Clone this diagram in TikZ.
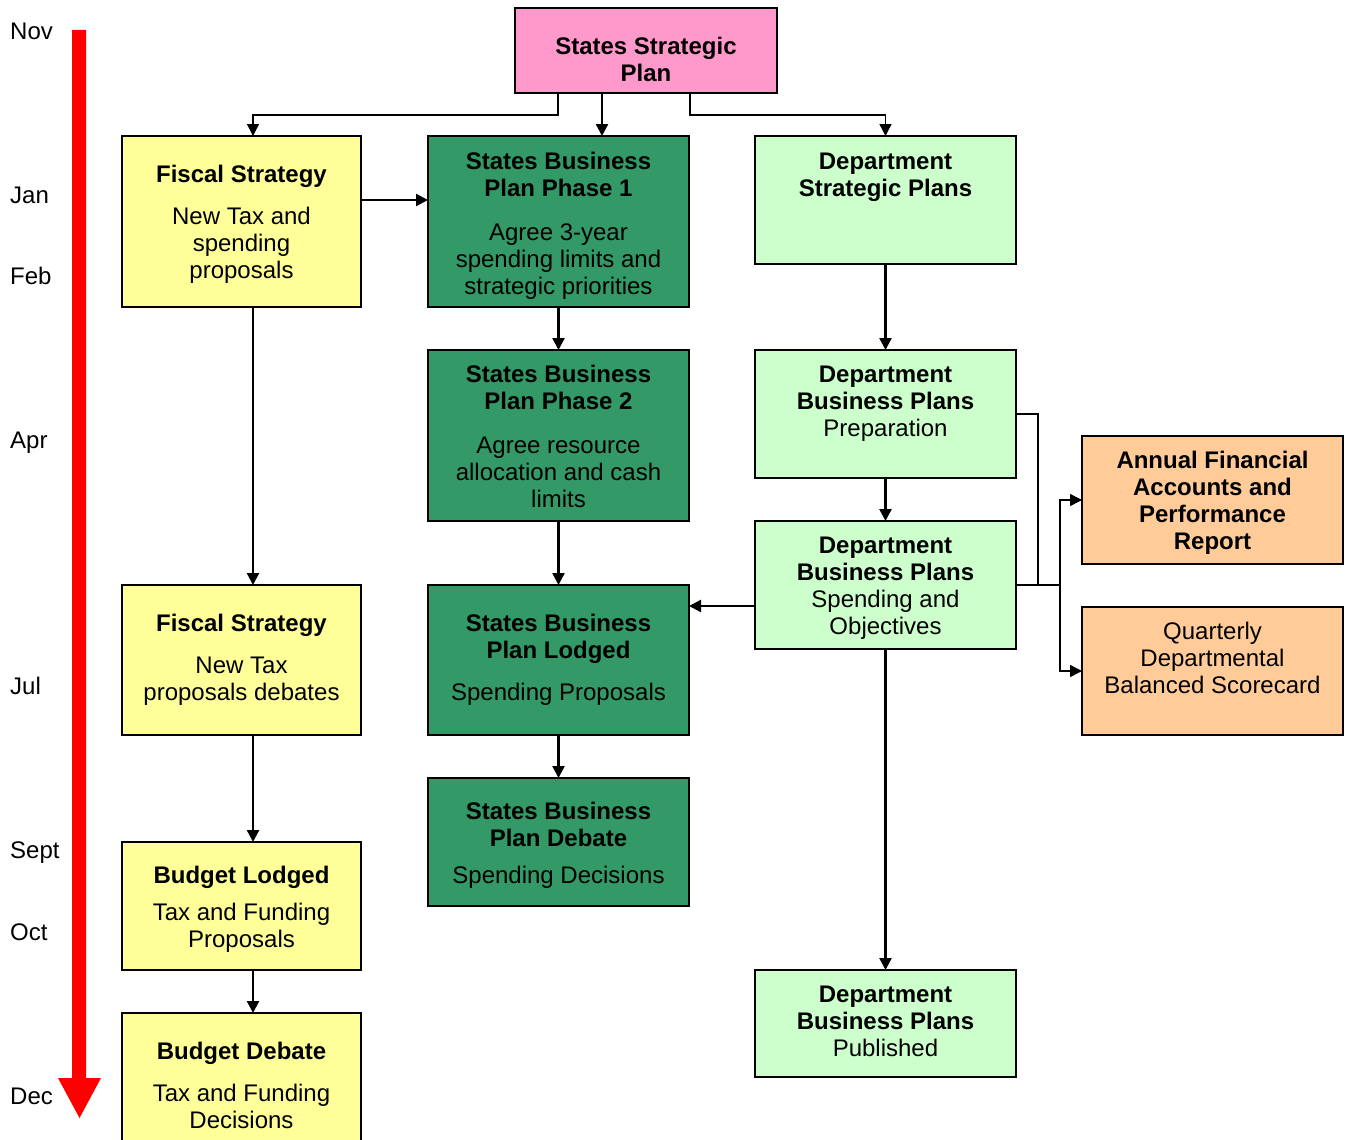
\documentclass[tikz,border=0pt]{standalone}
\usepackage{fontspec}
\setmainfont{Liberation Sans}
\usetikzlibrary{arrows.meta}
\definecolor{cpink}{HTML}{FF99CC}
\definecolor{cyel}{HTML}{FFFF99}
\definecolor{cdkg}{HTML}{339966}
\definecolor{cltg}{HTML}{CCFFCC}
\definecolor{corg}{HTML}{FFCC99}
\begin{document}
\begin{tikzpicture}[x=1pt,y=-1pt,
  box/.style={draw=black, line width=1.8pt, inner sep=0pt, outer sep=0pt},
  txt/.style={align=center, inner sep=0pt, font=\fontsize{24}{27}\selectfont},
  mon/.style={anchor=base west, inner sep=0pt, font=\fontsize{24}{27}\selectfont},
  arr/.style={line width=2.4pt, -{Triangle[length=12pt,width=12pt]}},
  arrthin/.style={line width=1.4pt, -{Triangle[length=12pt,width=12pt]}},
  thinl/.style={line width=1.4pt}]
\useasboundingbox (0,0) rectangle (1347,1140);
\clip (0,0) rectangle (1347,1140);

% time arrow
\fill[red] (72,30) -- (86,30) -- (86,1078) -- (101,1078) -- (79.5,1118) -- (58,1078) -- (72,1078) -- cycle;
\node[mon] (m1) at (10,39.6) {Nov};
\node[mon] (m2) at (10,203.6) {Jan};
\node[mon] (m3) at (10,284.6) {Feb};
\node[mon] (m4) at (10,448.6) {Apr};
\node[mon] (m5) at (10,694.6) {Jul};
\node[mon] (m6) at (10,858.6) {Sept};
\node[mon] (m7) at (10,940.6) {Oct};
\node[mon] (m8) at (10,1104.6) {Dec};

% boxes
\node[box, fill=cpink, minimum width=262pt, minimum height=85pt] (ssp) at (646,50.5) {};
\node[box, fill=cyel, minimum width=239pt, minimum height=171pt] (fs1) at (241.5,221.5) {};
\node[box, fill=cdkg, minimum width=261pt, minimum height=171pt] (sbp1) at (558.5,221.5) {};
\node[box, fill=cltg, minimum width=261pt, minimum height=128pt] (dsp) at (885.5,200) {};
\node[box, fill=cdkg, minimum width=261pt, minimum height=171pt] (sbp2) at (558.5,435.5) {};
\node[box, fill=cltg, minimum width=261pt, minimum height=128pt] (dbp1) at (885.5,414) {};
\node[box, fill=cltg, minimum width=261pt, minimum height=128pt] (dbp2) at (885.5,585) {};
\node[box, fill=corg, minimum width=261pt, minimum height=128pt] (afa) at (1212.5,500) {};
\node[box, fill=corg, minimum width=261pt, minimum height=128pt] (qdb) at (1212.5,671) {};
\node[box, fill=cyel, minimum width=239pt, minimum height=150pt] (fs2) at (241.5,660) {};
\node[box, fill=cdkg, minimum width=261pt, minimum height=150pt] (sbpl) at (558.5,660) {};
\node[box, fill=cdkg, minimum width=261pt, minimum height=128pt] (sbpd) at (558.5,842) {};
\node[box, fill=cyel, minimum width=239pt, minimum height=128pt] (bl) at (241.5,906) {};
\node[box, fill=cyel, minimum width=239pt, minimum height=137pt] (bd) at (241.5,1081.5) {};
\node[box, fill=cltg, minimum width=261pt, minimum height=107pt] (dbp3) at (885.5,1023.5) {};

% texts
\node[txt] (ssp-t) at (646,62.7) {\strut\textbf{States Strategic}\\\textbf{Plan}\strut};
\node[txt] (fs1-t) at (241.5,225.2) {\strut\textbf{Fiscal Strategy}\\[15pt]New Tax and\\spending\\proposals\strut};
\node[txt] (sbp1-t) at (558.5,226.2) {\strut\textbf{States Business}\\\textbf{Plan Phase 1}\\[17pt]Agree 3-year\\spending limits and\\strategic priorities\strut};
\node[txt] (dsp-t) at (885.5,177.2) {\strut\textbf{Department}\\\textbf{Strategic Plans}\strut};
\node[txt] (sbp2-t) at (558.5,439.2) {\strut\textbf{States Business}\\\textbf{Plan Phase 2}\\[17pt]Agree resource\\allocation and cash\\limits\strut};
\node[txt] (dbp1-t) at (885.5,403.7) {\strut\textbf{Department}\\\textbf{Business Plans}\\Preparation\strut};
\node[txt] (dbp2-t) at (885.5,588.7) {\strut\textbf{Department}\\\textbf{Business Plans}\\Spending and\\Objectives\strut};
\node[txt] (afa-t) at (1212.5,503.2) {\strut\textbf{Annual Financial}\\\textbf{Accounts and}\\\textbf{Performance}\\\textbf{Report}\strut};
\node[txt] (qdb-t) at (1212.5,660.7) {\strut Quarterly\\Departmental\\Balanced Scorecard\strut};
\node[txt] (fs2-t) at (241.5,660.7) {\strut\textbf{Fiscal Strategy}\\[15pt]New Tax\\proposals debates\strut};
\node[txt] (sbpl-t) at (558.5,660.7) {\strut\textbf{States Business}\\\textbf{Plan Lodged}\\[15pt]Spending Proposals\strut};
\node[txt] (sbpd-t) at (558.5,846.2) {\strut\textbf{States Business}\\\textbf{Plan Debate}\\[10pt]Spending Decisions\strut};
\node[txt] (bl-t) at (241.5,910.2) {\strut\textbf{Budget Lodged}\\[10pt]Tax and Funding\\Proposals\strut};
\node[txt] (bd-t) at (241.5,1088.2) {\strut\textbf{Budget Debate}\\[15pt]Tax and Funding\\Decisions\strut};
\node[txt] (dbp3-t) at (885.5,1023.7) {\strut\textbf{Department}\\\textbf{Business Plans}\\Published\strut};

% connectors
\coordinate (fsx) at (253,0);
\draw[arrthin] ([xshift=-88pt]ssp.south) -- ++(0,22) -| (fs1.north -| fsx);
\draw[arr] ([xshift=-44pt]ssp.south) -- ([xshift=43.5pt]sbp1.north);
\draw[arrthin] ([xshift=44pt]ssp.south) -- ++(0,22) -| (dsp.north);
\draw[arr] ([yshift=21.5pt]fs1.east) -- ([yshift=21.5pt]sbp1.west);
\draw[arr] (fs1.south -| fsx) -- (fs2.north -| fsx);
\draw[arr] (fs2.south -| fsx) -- (bl.north -| fsx);
\draw[arr] (bl.south -| fsx) -- (bd.north -| fsx);
\draw[arr] (sbp1.south) -- (sbp2.north);
\draw[arr] (sbp2.south) -- (sbpl.north);
\draw[arr] (sbpl.south) -- (sbpd.north);
\draw[arr] (dsp.south) -- (dbp1.north);
\draw[arr] (dbp1.south) -- (dbp2.north);
\draw[arr] (dbp2.south) -- (dbp3.north);
\draw[arr] ([yshift=-21pt]dbp2.west) -- ([yshift=54pt]sbpl.east);
\draw[thinl] (dbp1.east) -- ++(22,0) |- (dbp2.east);
\draw[thinl] (dbp2.east) -- ++(44,0) coordinate (j);
\draw[arrthin] (j) |- (afa.west);
\draw[arrthin] (j) |- (qdb.west);
\end{tikzpicture}
\end{document}
